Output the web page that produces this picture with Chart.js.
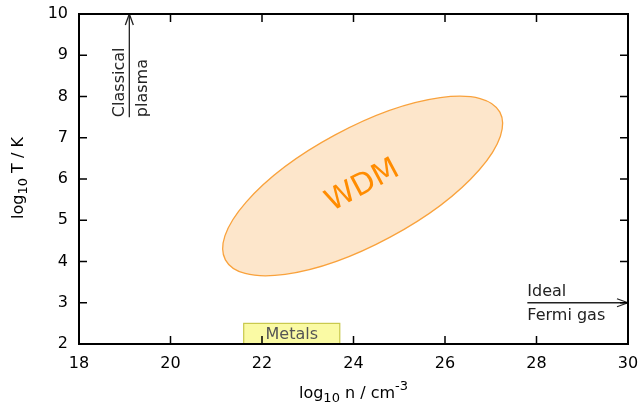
<!DOCTYPE html>
<html>
<head>
<meta charset="utf-8">
<script src="https://cdn.jsdelivr.net/npm/chart.js@4.4.0/dist/chart.umd.min.js"></script>
<style>
    html, body { margin: 0; padding: 0; background: #fff; }
</style>
</head>
<body>
<canvas id="chart" width="643" height="403"></canvas>
<script>
const xTicks = [18, 20, 22, 24, 26, 28, 30];
const yTicks = [2, 3, 4, 5, 6, 7, 8, 9, 10];

// WDM region: centre, end of the long axis, end of the short axis (data units)
const wdmCenter = [24.2, 5.83];
const wdmMajorEnd = [27.2, 7.62];
const wdmMinorEnd = [23.6, 7.07];
const wdmLabel = 'WDM';

const metalsX = [21.6, 23.7];
const metalsY = [2, 2.5];
const metalsLabel = 'Metals';

const classicalX = [19.1, 19.1];
const classicalY = [7.5, 10];
const classicalLabel = ['Classical', 'plasma'];

const fermiX = [27.8, 30];
const fermiY = [3, 3];
const fermiLabel = ['Ideal', 'Fermi gas'];

// axis titles as [text, kind] where kind is '', 'sub' or 'sup'
const xTitle = [['log', ''], ['10', 'sub'], [' n / cm', ''], ['-3', 'sup']];
const yTitle = [['log', ''], ['10', 'sub'], [' T / K', '']];

const FONT = "'DejaVu Sans', sans-serif";

const toPoints = (xs, ys) => xs.map((x, i) => ({ x: x, y: ys[i] }));

function px(chart, p) {
    return [chart.scales.x.getPixelForValue(p[0]), chart.scales.y.getPixelForValue(p[1])];
}

// draws a title with sub/superscripts centred on (0,0) of the current transform
function drawRichTitle(ctx, parts) {
    const fontFor = (k) => (k ? '13px ' : '16px ') + FONT;
    const shift = { '': 0, sub: 4, sup: -8 };
    let total = 0;
    parts.forEach(([t, k]) => { ctx.font = fontFor(k); total += ctx.measureText(t).width; });
    let x = -total / 2;
    ctx.textAlign = 'left';
    ctx.textBaseline = 'alphabetic';
    parts.forEach(([t, k]) => {
        ctx.font = fontFor(k);
        ctx.fillText(t, x, shift[k]);
        x += ctx.measureText(t).width;
    });
}

const regionsPlugin = {
    id: 'regions',
    beforeDatasetsDraw(chart) {
        const ctx = chart.ctx;
        const area = chart.chartArea;
        const c = px(chart, wdmCenter);
        const u = px(chart, wdmMajorEnd);
        const v = px(chart, wdmMinorEnd);
        const a = Math.hypot(u[0] - c[0], u[1] - c[1]);
        const b = Math.hypot(v[0] - c[0], v[1] - c[1]);
        const rot = Math.atan2(u[1] - c[1], u[0] - c[0]);

        ctx.save();
        ctx.beginPath();
        ctx.ellipse(c[0], c[1], a, b, rot, 0, Math.PI * 2);
        ctx.fillStyle = '#fde6cb';
        ctx.fill();
        ctx.strokeStyle = '#f9a23c';
        ctx.lineWidth = 1.3;
        ctx.stroke();

        ctx.translate(c[0], c[1]);
        ctx.rotate(rot);
        ctx.fillStyle = '#ff8c00';
        ctx.font = '30px ' + FONT;
        ctx.textAlign = 'center';
        ctx.textBaseline = 'middle';
        ctx.fillText(wdmLabel, 0, 0);
        ctx.restore();

        // metals box
        const p0 = px(chart, [metalsX[0], metalsY[1]]);
        const p1 = px(chart, [metalsX[1], metalsY[0]]);
        ctx.save();
        ctx.fillStyle = '#fafaa4';
        ctx.strokeStyle = '#c8c84c';
        ctx.lineWidth = 1.2;
        ctx.fillRect(p0[0], p0[1], p1[0] - p0[0], p1[1] - p0[1]);
        ctx.strokeRect(p0[0], p0[1], p1[0] - p0[0], p1[1] - p0[1]);
        ctx.fillStyle = '#555555';
        ctx.font = '16px ' + FONT;
        ctx.textAlign = 'center';
        ctx.textBaseline = 'middle';
        ctx.fillText(metalsLabel, (p0[0] + p1[0]) / 2, (p0[1] + p1[1]) / 2 + 1);
        ctx.restore();

        // axis titles
        ctx.save();
        ctx.fillStyle = '#000';
        ctx.translate((area.left + area.right) / 2, 398);
        drawRichTitle(ctx, xTitle);
        ctx.restore();
        ctx.save();
        ctx.fillStyle = '#000';
        ctx.translate(22.5, (area.top + area.bottom) / 2 - 1);
        ctx.rotate(-Math.PI / 2);
        drawRichTitle(ctx, yTitle);
        ctx.restore();
    },
    afterDatasetsDraw(chart) {
        const ctx = chart.ctx;
        const area = chart.chartArea;

        // open arrow heads at the end of each line dataset
        ctx.save();
        ctx.strokeStyle = '#222';
        ctx.lineWidth = 1.3;
        chart.data.datasets.forEach((ds, i) => {
            const pts = chart.getDatasetMeta(i).data;
            const tail = pts[pts.length - 2], tip = pts[pts.length - 1];
            const ang = Math.atan2(tip.y - tail.y, tip.x - tail.x);
            ctx.beginPath();
            [-1, 1].forEach((s) => {
                ctx.moveTo(tip.x, tip.y);
                ctx.lineTo(tip.x - 11 * Math.cos(ang) + s * 4 * Math.sin(ang),
                           tip.y - 11 * Math.sin(ang) - s * 4 * Math.cos(ang));
            });
            ctx.stroke();
        });
        ctx.restore();

        // arrow labels
        ctx.save();
        ctx.fillStyle = '#222';
        ctx.font = '16px ' + FONT;
        ctx.textBaseline = 'alphabetic';
        ctx.textAlign = 'left';
        const cl = px(chart, [classicalX[0], classicalY[0]]);
        ctx.save();
        ctx.translate(cl[0], cl[1]);
        ctx.rotate(-Math.PI / 2);
        ctx.fillText(classicalLabel[0], 0, -5);
        ctx.fillText(classicalLabel[1], 0, 18);
        ctx.restore();
        const fe = px(chart, [fermiX[0], fermiY[0]]);
        ctx.fillText(fermiLabel[0], fe[0], fe[1] - 7);
        ctx.fillText(fermiLabel[1], fe[0], fe[1] + 17);
        ctx.restore();

        // frame with inward ticks on all four sides
        ctx.save();
        ctx.strokeStyle = '#000';
        ctx.lineWidth = 1.5;
        ctx.beginPath();
        xTicks.slice(1, -1).forEach((t) => {
            const x = chart.scales.x.getPixelForValue(t);
            ctx.moveTo(x, area.bottom); ctx.lineTo(x, area.bottom - 8);
            ctx.moveTo(x, area.top); ctx.lineTo(x, area.top + 8);
        });
        yTicks.slice(1, -1).forEach((t) => {
            const y = chart.scales.y.getPixelForValue(t);
            ctx.moveTo(area.left, y); ctx.lineTo(area.left + 8, y);
            ctx.moveTo(area.right, y); ctx.lineTo(area.right - 8, y);
        });
        ctx.stroke();
        ctx.lineWidth = 2;
        ctx.strokeRect(area.left, area.top, area.right - area.left, area.bottom - area.top);
        ctx.restore();
    }
};

const lineStyle = {
    showLine: true,
    pointRadius: 0,
    borderColor: '#222',
    borderWidth: 1.3,
    fill: false,
    clip: false
};

new Chart(document.getElementById('chart'), {
    type: 'scatter',
    data: {
        datasets: [
            { label: 'classical', data: toPoints(classicalX, classicalY), ...lineStyle },
            { label: 'fermi', data: toPoints(fermiX, fermiY), ...lineStyle }
        ]
    },
    options: {
        responsive: false,
        animation: false,
        devicePixelRatio: 1,
        layout: { padding: 0 },
        plugins: { legend: { display: false }, tooltip: { enabled: false } },
        scales: {
            x: {
                type: 'linear',
                min: xTicks[0],
                max: xTicks[xTicks.length - 1],
                afterBuildTicks: (s) => { s.ticks = xTicks.map((v) => ({ value: v })); },
                afterFit: (s) => { s.height = 59; s.paddingLeft = 0; s.paddingRight = 15; },
                grid: { display: false, drawTicks: false },
                border: { display: false },
                ticks: { color: '#000', padding: 10, font: { family: FONT, size: 16 }, maxRotation: 0 }
            },
            y: {
                type: 'linear',
                min: yTicks[0],
                max: yTicks[yTicks.length - 1],
                afterBuildTicks: (s) => { s.ticks = yTicks.map((v) => ({ value: v })); },
                afterFit: (s) => { s.width = 79; s.paddingTop = 14; s.paddingBottom = 0; },
                grid: { display: false, drawTicks: false },
                border: { display: false },
                ticks: { color: '#000', padding: 11, font: { family: FONT, size: 16 } }
            }
        }
    },
    plugins: [regionsPlugin]
});
</script>
</body>
</html>
